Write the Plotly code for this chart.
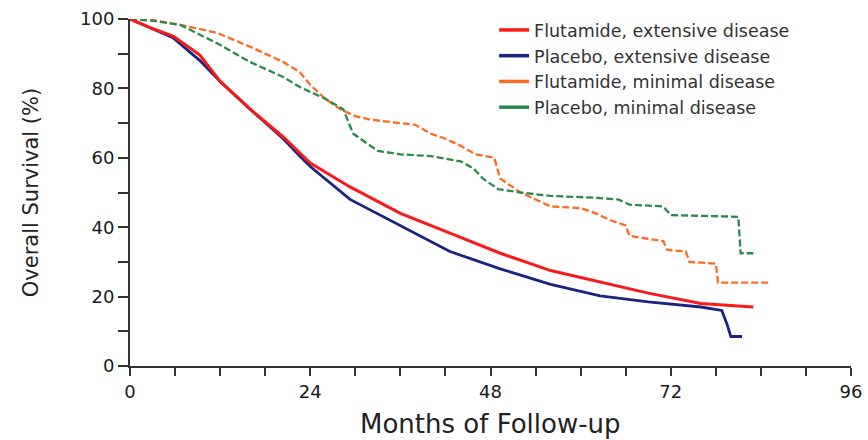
import plotly.graph_objects as go

# Flutamide, extensive disease
flu_ext_m = [0, 2.7, 5.8, 9.3, 12, 16, 20.4, 22.6, 24, 29.3, 36, 42.6, 49.3, 56, 62.6, 69, 76, 83]
flu_ext_s = [100, 97.5, 95, 89.6, 82, 74, 66, 61.4, 58.5, 51.6, 44, 38.3, 32.5, 27.5, 24.2, 21, 18, 17]
# Placebo, extensive disease
pla_ext_m = [0, 2.7, 5.8, 9.3, 12, 16, 20.4, 22.6, 24, 29.3, 36, 42.6, 49.3, 56, 62.6, 69, 76, 78.8, 79.5, 80, 81.5]
pla_ext_s = [100, 97.5, 94.5, 88, 82, 74, 65.5, 60.5, 57.5, 48, 40.5, 33, 28, 23.5, 20.2, 18.5, 17, 16, 12, 8.5, 8.5]
# Flutamide, minimal disease
flu_min_m = [0, 3, 6.7, 11.6, 16, 20.4, 22.6, 24, 26, 28, 30, 32, 36, 38, 40, 42, 44, 46, 48.5, 49.3, 52, 54, 56, 60, 62, 64, 66, 66.5, 71, 71.5, 74, 74.5, 78, 78.3, 85]
flu_min_s = [100, 99.7, 98.3, 96, 92, 87.6, 84.7, 81, 77, 74, 72, 71, 70, 69.5, 67, 65.5, 63.5, 61, 60, 54, 50, 48, 46, 45.5, 44, 42, 40.5, 37.5, 36, 33.5, 33, 30, 29.5, 24, 24]
# Placebo, minimal disease
pla_min_m = [0, 3, 6.7, 11.6, 16, 20.4, 22.6, 24, 26, 28.4, 29.7, 31, 33, 36, 40, 44, 45.7, 47, 49, 52, 56, 62, 65, 66.5, 71, 72, 81, 81.3, 83]
pla_min_s = [100, 99.5, 98.3, 93, 87.6, 83.3, 80.4, 79, 77, 74, 67, 65, 62, 61, 60.5, 59, 57, 54, 51, 50, 49, 48.5, 48, 46.5, 46, 43.5, 43, 32.5, 32.5]

names = ["Flutamide, extensive disease", "Placebo, extensive disease",
         "Flutamide, minimal disease", "Placebo, minimal disease"]
colors = ["#fa1818", "#1a2480", "#ff6a22", "#2a8a4c"]
series = [(flu_ext_m, flu_ext_s), (pla_ext_m, pla_ext_s), (flu_min_m, flu_min_s), (pla_min_m, pla_min_s)]
dashes = ["solid", "solid", "7px,3px", "7px,3px"]
widths = [3, 2.8, 2.3, 2.3]

fig = go.Figure()
# draw minimal first so extensive curves sit on top (as in reference)
order = [2, 3, 1, 0]
for i in order:
    m, s = series[i]
    fig.add_trace(go.Scatter(x=m, y=s, mode="lines",
                             line=dict(color=colors[i], width=widths[i], dash=dashes[i]),
                             showlegend=False, hoverinfo="skip"))
for n, c in zip(names, colors):
    fig.add_trace(go.Scatter(x=[None], y=[None], mode="lines", name=n,
                             line=dict(color=c, width=3.5)))

font = "DejaVu Sans, Arial, sans-serif"
axcol = "#333"
fig.update_layout(
    width=868, height=440,
    margin=dict(l=130, r=17, t=19, b=74, autoexpand=False),
    plot_bgcolor="white", paper_bgcolor="white",
    font=dict(family=font, color="#1a1a1a", size=16),
    legend=dict(x=0.505, y=1.02, xanchor="left", yanchor="top",
                font=dict(size=17.5, color="#333", family=font), bgcolor="rgba(0,0,0,0)",
                tracegroupgap=0),
    xaxis=dict(range=[0, 96], tickvals=[0, 24, 48, 72, 96], ticks="outside", ticklen=8, tickwidth=2,
               tickcolor=axcol, showline=True, linecolor=axcol, linewidth=2, showgrid=False, zeroline=False,
               minor=dict(dtick=6, ticks="outside", ticklen=8, tickwidth=2, tickcolor=axcol, showgrid=False),
               tickfont=dict(size=18, color="#1a1a1a"), automargin=False),
    yaxis=dict(range=[0, 100], tickvals=[0, 20, 40, 60, 80, 100], ticks="outside", ticklen=10, tickwidth=2,
               tickcolor=axcol, showline=True, linecolor=axcol, linewidth=2, showgrid=False, zeroline=False,
               minor=dict(dtick=10, ticks="outside", ticklen=10, tickwidth=2, tickcolor=axcol, showgrid=False),
               tickfont=dict(size=18, color="#1a1a1a"), automargin=False,
               title=dict(text="Overall Survival (%)", font=dict(size=21, color="#222"), standoff=36)),
    annotations=[dict(text="Months of Follow-up", xref="paper", yref="paper", x=0.5, y=-0.216,
                      xanchor="center", yanchor="bottom", showarrow=False,
                      font=dict(size=26, color="#222", family=font))],
)
fig.write_html("out.html")
